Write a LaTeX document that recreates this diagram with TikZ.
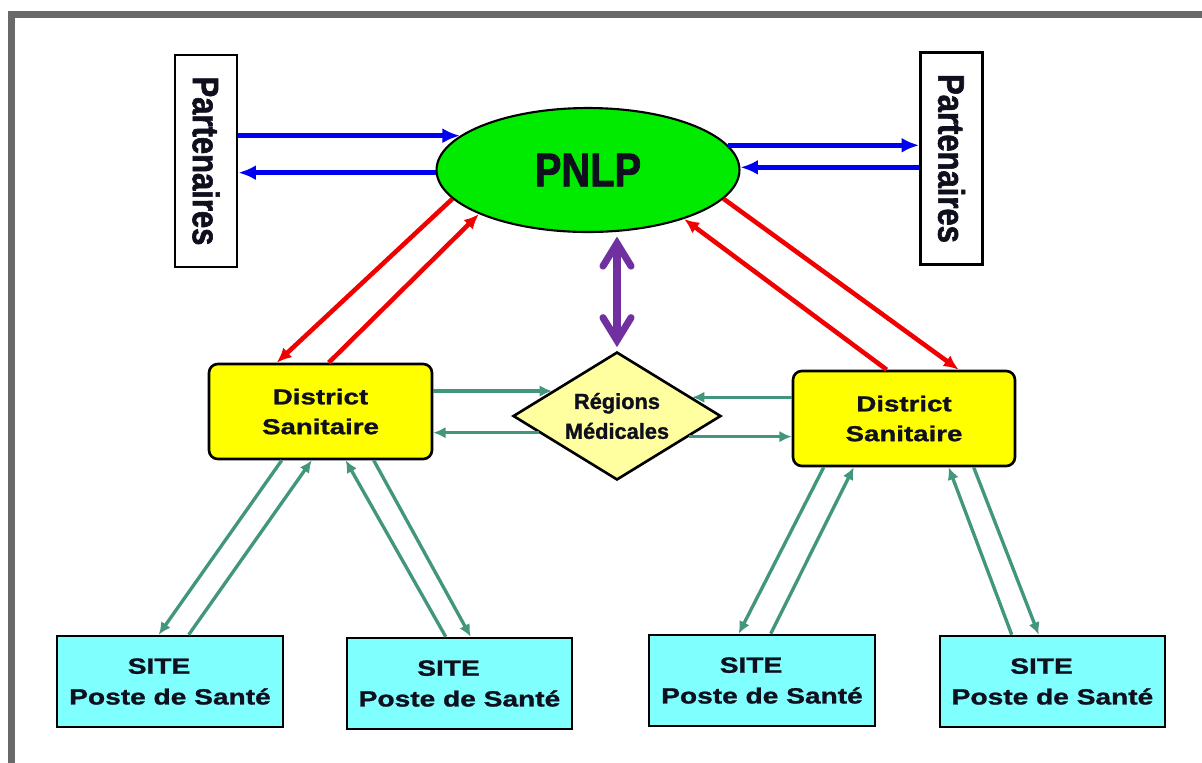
\documentclass[tikz,border=0pt]{standalone}
\usepackage{fontspec}
\setmainfont{Liberation Sans}[FakeBold=1.2]
\newfontfamily\condf[FakeStretch=0.84, FakeBold=1.6]{Liberation Sans}
\newfontfamily\widef[FakeStretch=1.28, FakeBold=1.2]{Liberation Sans}
\usetikzlibrary{shapes.geometric,arrows.meta,calc}
\definecolor{bordergray}{RGB}{105,105,105}
\definecolor{pgreen}{RGB}{0,235,0}
\definecolor{dyellow}{RGB}{255,255,0}
\definecolor{ryellow}{RGB}{255,255,160}
\definecolor{scyan}{RGB}{128,255,255}
\definecolor{tealc}{RGB}{65,150,125}
\definecolor{purp}{RGB}{112,48,160}
\definecolor{bluea}{RGB}{0,0,240}
\definecolor{reda}{RGB}{240,0,0}
\definecolor{txt}{RGB}{15,15,30}
\tikzset{
  partbox/.style={draw, line width=1.5pt, fill=white, rotate=-90, inner sep=0pt,
    minimum width=4.24cm, minimum height=1.24cm, text=txt,
    font=\condf\bfseries\fontsize{21pt}{24pt}\selectfont},
  pnlpnode/.style={ellipse, draw, line width=1.2pt, fill=pgreen, inner sep=0pt,
    minimum width=6.06cm, minimum height=2.48cm, text=txt,
    font=\condf\bfseries\fontsize{27pt}{30pt}\selectfont},
  distbox/.style={draw, line width=1.5pt, fill=dyellow, rounded corners=5pt,
    minimum width=4.46cm, minimum height=1.9cm, align=center, inner sep=0pt, text=txt,
    font=\widef\bfseries\fontsize{12.3pt}{17pt}\selectfont},
  regnode/.style={diamond, draw, line width=1.5pt, fill=ryellow, aspect=1.625,
    inner sep=0pt, minimum width=4.16cm, minimum height=2.56cm, align=center, text=txt,
    font=\bfseries\fontsize{12.4pt}{17pt}\selectfont},
  sitebox/.style={draw, line width=1.5pt, fill=scyan, minimum width=4.52cm,
    minimum height=1.82cm, align=center, inner sep=0pt, text=txt,
    font=\widef\bfseries\fontsize{12.5pt}{17.5pt}\selectfont},
  bluearr/.style={draw=bluea, line width=2.8pt, -{Latex[length=10pt,width=8.5pt]}},
  redarr/.style={draw=reda, line width=2.6pt, -{Latex[length=8.5pt,width=7.5pt]}},
  tealarr/.style={draw=tealc, line width=1.9pt, -{Latex[length=7pt,width=6.5pt]}},
  purparr/.style={draw=purp, line width=4pt, line cap=round,
    {Straight Barb[length=13pt,width=16pt,line cap=round]}-{Straight Barb[length=13pt,width=16pt,line cap=round]}}
}
\begin{document}
\begin{tikzpicture}[x=0.02cm,y=-0.02cm]
\useasboundingbox (0,0) rectangle (1202,762);
\clip (0,0) rectangle (1202,762);
\fill[white] (0,0) rectangle (1202,762);
\draw[bordergray, line width=3.5pt] (11.5,14.5) rectangle (1230,790);

% nodes
\node[partbox] (pl) at (206,161) {Partenaires};
\node[partbox] (pr) at (951.5,158.5) {Partenaires};
\node[pnlpnode] (pnlp) at (588,170) {PNLP};
\node[distbox] (dl) at (320.5,411.5) {District\\Sanitaire};
\node[distbox, minimum width=4.44cm] (dr) at (904,418.5) {District\\Sanitaire};
\node[regnode] (reg) at (617,416) {Régions\\Médicales};
\node[sitebox] (s1) at (170,681.5) {SITE\hspace*{1em}\\Poste de Santé};
\node[sitebox, minimum width=4.5cm] (s2) at (459.5,683.5) {SITE\hspace*{1em}\\Poste de Santé};
\node[sitebox] (s3) at (762,680.5) {SITE\hspace*{1em}\\Poste de Santé};
\node[sitebox, minimum width=4.5cm] (s4) at (1052.5,681.5) {SITE\hspace*{1em}\\Poste de Santé};

% blue: partners <-> PNLP
\draw[bluearr] (pl.north |- pnlp.165.6) -- (pnlp.165.6);
\draw[bluearr] (pnlp.181) -- (pl.north |- pnlp.181);
\draw[bluearr] (pnlp.10.2) -- (pr.south |- pnlp.10.2);
\draw[bluearr] (pr.south |- pnlp.1) -- (pnlp.1);

% red: PNLP <-> districts
\draw[redarr] (pnlp.192.4) -- ($(dl.north west)+(69,0)$);
\draw[redarr] ($(dl.north west)+(121,0)$) -- (pnlp.202.7);
\draw[redarr] ($(dr.north west)+(95,0)$) -- (pnlp.333);
\draw[redarr] (pnlp.348) -- ($(dr.north west)+(167,0)$);

% purple: PNLP <-> Regions
\draw[purparr, shorten <=2pt, shorten >=2pt] (reg.north |- pnlp.south) -- (reg.north);

% teal: districts <-> regions
\draw[tealarr] (dl.east |- reg.159.7) -- (reg.159.7);
\draw[tealarr] (reg.192.5) -- (dl.east |- reg.192.5);
\draw[tealarr] (dr.west |- reg.14.6) -- (reg.14.6);
\draw[tealarr] (reg.344.4) -- (dr.west |- reg.344.4);

% teal: districts <-> sites
\draw[tealarr] ($(dl.south west)+(74,0)$) -- ($(s1.north west)+(103,0)$);
\draw[tealarr] ($(s1.north west)+(133,0)$) -- ($(dl.south west)+(104,0)$);
\draw[tealarr] ($(s2.north west)+(100,0)$) -- ($(dl.south west)+(138,0)$);
\draw[tealarr] ($(dl.south west)+(166,0)$) -- ($(s2.north west)+(125,0)$);
\draw[tealarr] ($(dr.south west)+(32,0)$) -- ($(s3.north west)+(91,0)$);
\draw[tealarr] ($(s3.north west)+(123,0)$) -- ($(dr.south west)+(62,0)$);
\draw[tealarr] ($(s4.north west)+(73,0)$) -- ($(dr.south west)+(157,0)$);
\draw[tealarr] ($(dr.south west)+(182,0)$) -- ($(s4.north west)+(100,0)$);
\end{tikzpicture}
\end{document}
